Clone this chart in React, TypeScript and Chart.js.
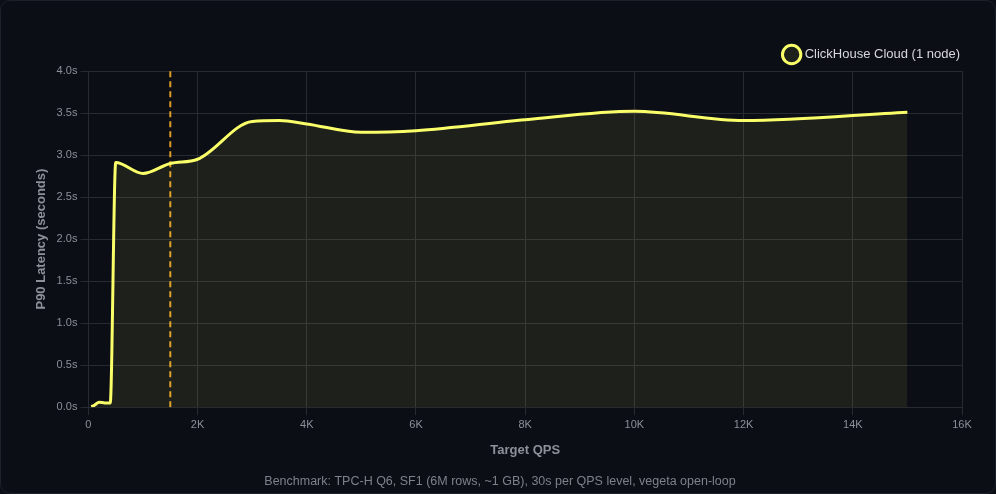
import React, { useEffect, useRef } from "react";
import { Chart, registerables } from "chart.js";

Chart.register(...registerables);

const qps = [50, 100, 200, 300, 400, 500, 1000, 1500, 2000, 3000, 3500, 4000, 5000, 6000, 8000, 10000, 12000, 15000];
const p90Latency = [0.01, 0.02, 0.06, 0.05, 0.05, 2.91, 2.78, 2.9, 2.95, 3.4, 3.41, 3.37, 3.27, 3.29, 3.42, 3.52, 3.41, 3.51];
const markerQps = 1500;
const seriesLabel = "ClickHouse Cloud (1 node)";
const xTitle = "Target QPS";
const yTitle = "P90 Latency (seconds)";
const caption = "Benchmark: TPC-H Q6, SF1 (6M rows, ~1 GB), 30s per QPS level, vegeta open-loop";

const FONT = "'Liberation Sans', Arial, Helvetica, sans-serif";
const TICK = "#8b9099";
const GRID = "#262a31";

export default function App() {
  const ref = useRef<HTMLCanvasElement | null>(null);

  useEffect(() => {
    document.body.style.margin = "0";
    document.body.style.background = "#0b0e15";
    const ctx = ref.current;
    if (!ctx) return;
    const chart = new Chart(ctx, {
      type: "line",
      data: {
        datasets: [
          {
            label: seriesLabel,
            data: qps.map((x, i) => ({ x, y: p90Latency[i] })),
            borderColor: "#faff69",
            backgroundColor: "rgba(250,255,105,0.08)",
            borderWidth: 3,
            fill: "origin",
            cubicInterpolationMode: "monotone",
            pointRadius: 0,
            pointHoverRadius: 0,
          },
          {
            label: "marker",
            data: [
              { x: markerQps, y: 0 },
              { x: markerQps, y: 4 },
            ],
            borderColor: "rgba(245,170,40,0.9)",
            borderWidth: 2,
            borderDash: [6, 4],
            fill: false,
            tension: 0,
            pointRadius: 0,
            pointHoverRadius: 0,
          },
        ],
      },
      options: {
        animation: false,
        responsive: false,
        maintainAspectRatio: false,
        layout: { padding: { top: 37, right: 25, bottom: 0, left: 29 } },
        plugins: {
          legend: {
            position: "top",
            align: "end",
            labels: {
              usePointStyle: true,
              pointStyle: "circle",
              color: "#d6d8dc",
              font: { family: FONT, size: 13 },
              padding: 10,
              filter: (item) => item.datasetIndex === 0,
            },
          },
          subtitle: {
            display: true,
            position: "bottom",
            text: caption,
            color: "#7d818a",
            font: { family: FONT, size: 12.5, weight: "normal" },
            padding: { top: 12, bottom: 4 },
          },
          tooltip: { enabled: false },
        },
        scales: {
          x: {
            type: "linear",
            min: 0,
            max: 16000,
            ticks: {
              stepSize: 2000,
              color: TICK,
              font: { family: FONT, size: 11 },
              callback: (v) => (Number(v) === 0 ? "0" : Number(v) / 1000 + "K"),
            },
            grid: { color: GRID, tickLength: 8 },
            border: { color: GRID },
            title: {
              display: true,
              text: xTitle,
              color: TICK,
              font: { family: FONT, size: 13, weight: "bold" },
              padding: { top: 8, bottom: 4 },
            },
          },
          y: {
            min: 0,
            max: 4,
            ticks: {
              stepSize: 0.5,
              color: TICK,
              font: { family: FONT, size: 11 },
              callback: (v) => Number(v).toFixed(1) + "s",
            },
            grid: { color: GRID, tickLength: 8 },
            border: { color: GRID },
            title: {
              display: true,
              text: yTitle,
              color: TICK,
              font: { family: FONT, size: 13, weight: "bold" },
              padding: { top: 4, bottom: 4 },
            },
          },
          y2: {
            position: "right",
            display: true,
            grid: { display: false },
            border: { display: false },
            ticks: { display: false },
            afterFit: (s: any) => {
              s.width = 8;
            },
          },
        },
      },
    });
    return () => chart.destroy();
  }, []);

  return (
    <div
      style={{
        width: 996,
        height: 494,
        boxSizing: "border-box",
        border: "1px solid #1c212a",
        borderRadius: 10,
        background: "#0b0e15",
        overflow: "hidden",
      }}
    >
      <canvas ref={ref} width={994} height={492} style={{ display: "block", width: 994, height: 492 }} />
    </div>
  );
}
